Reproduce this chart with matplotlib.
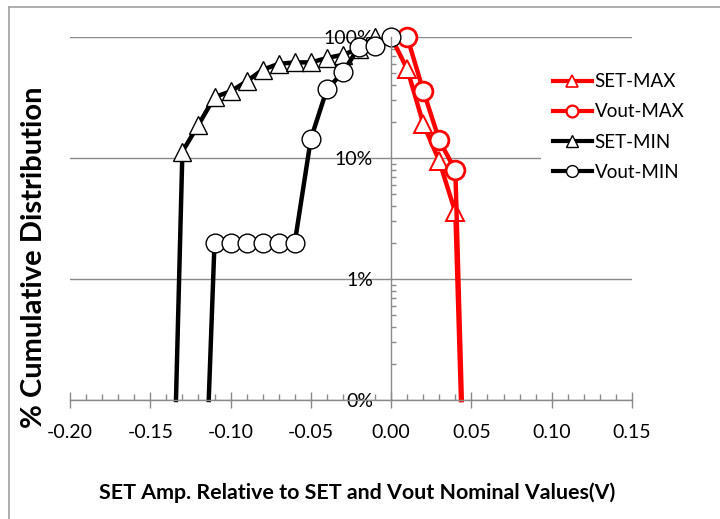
import matplotlib
matplotlib.use("Agg")
import matplotlib.pyplot as plt
from matplotlib.lines import Line2D
from matplotlib.ticker import FixedLocator, FixedFormatter, MultipleLocator, LogLocator, NullFormatter

# =====================================================
#   data (y in percent)
# =====================================================

set_max_x = [0.00, 0.01, 0.02, 0.03, 0.04, 0.0435]
set_max_y = [100, 54.4, 19.2, 9.4, 3.55, 0.1]

vout_max_x = [0.01, 0.02, 0.03, 0.04, 0.044]
vout_max_y = [100, 36, 14, 7.9, 0.1]

set_min_x = [-0.134, -0.13, -0.12, -0.11, -0.10, -0.09, -0.08, -0.07,
             -0.06, -0.05, -0.04, -0.03, -0.02, -0.01]
set_min_y = [0.1, 11.3, 18.8, 31.9, 35.5, 43, 53.7, 60, 61.7, 61.7, 67, 71.4, 80, 100]

vout_min_x = [-0.1136, -0.11, -0.10, -0.09, -0.08, -0.07, -0.06, -0.05,
              -0.04, -0.03, -0.02, -0.01, 0.00]
vout_min_y = [0.1, 2, 2, 2, 2, 2, 2, 14.4, 37, 51, 83, 84, 100]

y_ticks = [0.1, 1, 10, 100]
y_tick_labels = ["0%", "1%", "10%", "100%"]
x_ticks = [-0.20, -0.15, -0.10, -0.05, 0.00, 0.05, 0.10, 0.15]

labels = ["SET-MAX", "Vout-MAX", "SET-MIN", "Vout-MIN"]

# =====================================================
#   plotting
# =====================================================

plt.rcParams["font.family"] = ["Lato", "DejaVu Sans"]

grey = "#8a8a8a"

fig = plt.figure(figsize=(7.2, 5.19), dpi=100)
ax = fig.add_axes([70 / 720, 1 - 400 / 519, (632 - 70) / 720, (400 - 37) / 519])

ax.plot(set_max_x, set_max_y, color="red", lw=3.2, marker="^", ms=13,
        mfc="white", mec="red", mew=1.4, clip_on=False,
        markevery=list(range(1, len(set_max_x) - 1)))
ax.plot(vout_max_x, vout_max_y, color="red", lw=3.2, marker="o", ms=13.5,
        mfc="white", mec="red", mew=2.0, clip_on=False,
        markevery=list(range(0, len(vout_max_x) - 1)))
ax.plot(set_min_x, set_min_y, color="black", lw=3.2, marker="^", ms=13,
        mfc="white", mec="black", mew=1.0, clip_on=False,
        markevery=list(range(1, len(set_min_x))))
ax.plot(vout_min_x, vout_min_y, color="black", lw=3.2, marker="o", ms=13.5,
        mfc="white", mec="black", mew=1.0, clip_on=False,
        markevery=list(range(1, len(vout_min_x))))

ax.set_yscale("log")
ax.set_ylim(0.1, 100)
ax.set_xlim(-0.20, 0.15)

# axes / spines
for s in ["top", "right"]:
    ax.spines[s].set_visible(False)
ax.spines["left"].set_position(("data", 0))
ax.spines["left"].set_color(grey)
ax.spines["bottom"].set_color(grey)
ax.spines["left"].set_linewidth(1.0)
ax.spines["bottom"].set_linewidth(1.0)

ax.yaxis.set_major_locator(FixedLocator(y_ticks))
ax.yaxis.set_major_formatter(FixedFormatter(y_tick_labels))
ax.yaxis.set_minor_locator(LogLocator(base=10, subs=range(2, 10)))
ax.yaxis.set_minor_formatter(NullFormatter())
ax.tick_params(axis="y", which="major", length=0, pad=13, labelsize=14)
ax.tick_params(axis="y", which="minor", direction="in", length=3.5, width=1.0, color=grey)

ax.xaxis.set_major_locator(FixedLocator(x_ticks))
ax.xaxis.set_major_formatter(FixedFormatter([f"{v:.2f}" for v in x_ticks]))
ax.xaxis.set_minor_locator(MultipleLocator(0.01))
ax.tick_params(axis="x", which="major", direction="inout", length=11, width=1.0,
               color=grey, pad=12, labelsize=14)
ax.tick_params(axis="x", which="minor", direction="in", length=4.5, width=1.0, color=grey)

ax.grid(axis="y", which="major", color=grey, lw=1.0)
ax.set_axisbelow(True)

# legend with smaller markers
handles = [
    Line2D([], [], color="red", lw=3, marker="^", ms=8, mfc="white", mec="red", mew=1.2),
    Line2D([], [], color="red", lw=3, marker="o", ms=8.5, mfc="white", mec="red", mew=1.6),
    Line2D([], [], color="black", lw=3, marker="^", ms=8, mfc="white", mec="black", mew=1.0),
    Line2D([], [], color="black", lw=3, marker="o", ms=8.5, mfc="white", mec="black", mew=1.0),
]
leg = fig.legend(handles, labels, loc="center left",
                 bbox_to_anchor=(532 / 720, 1 - 127 / 519),
                 frameon=True, fontsize=13.5, handlelength=2.1, handletextpad=0.15,
                 labelspacing=0.7, borderpad=0.6, fancybox=False)
leg.get_frame().set_facecolor("white")
leg.get_frame().set_edgecolor("none")
leg.get_frame().set_alpha(1)
leg.set_zorder(5)

# axis titles
fig.text(34 / 720, 1 - 257 / 519, "% Cumulative Distribution", rotation=90,
         ha="center", va="center", fontsize=21, fontweight="bold")
fig.text(357 / 720, 1 - 493 / 519, "SET Amp. Relative to SET and Vout Nominal Values(V)",
         ha="center", va="center", fontsize=15.4, fontweight="bold")

# chart border (left / top visible)
fig.add_artist(Line2D([9 / 720, 9 / 720], [0, 1 - 7 / 519], color="#a0a0a0", lw=1.2))
fig.add_artist(Line2D([9 / 720, 1], [1 - 7 / 519, 1 - 7 / 519], color="#a0a0a0", lw=1.2))

fig.savefig("out.png", dpi=100)
plt.close(fig)
